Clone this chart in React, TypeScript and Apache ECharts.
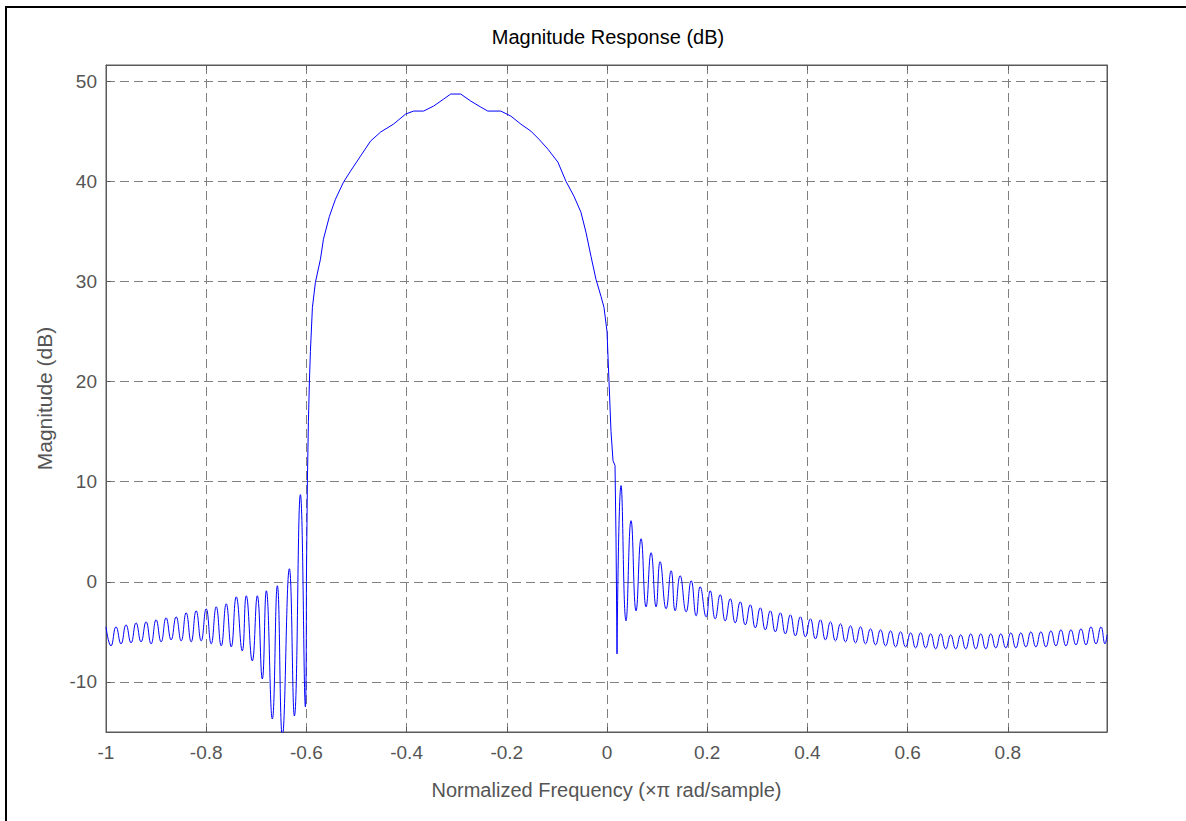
import React, { useEffect, useRef } from "react";
import * as echarts from "echarts";

// Left stopband (normalized frequency, dB)
const leftStopFreq = [
  -1.0, -0.99, -0.98, -0.97, -0.96, -0.95, -0.94, -0.93, -0.92, -0.91,
  -0.9, -0.89, -0.88, -0.87, -0.86, -0.85, -0.84, -0.83, -0.82, -0.81,
  -0.8, -0.79, -0.78, -0.77, -0.76, -0.75, -0.74, -0.728, -0.72, -0.708,
  -0.698, -0.688, -0.68, -0.668, -0.658, -0.648, -0.634, -0.624, -0.612, -0.602,
];
const leftStopMag = [
  -4.5, -6.4, -4.5, -6.2, -4.3, -6.1, -4.1, -6.0, -4.0, -6.2,
  -3.8, -6.0, -3.6, -5.8, -3.5, -5.9, -3.1, -6.0, -2.9, -5.9,
  -2.7, -6.2, -2.5, -6.4, -2.2, -6.5, -1.5, -6.9, -1.4, -7.9,
  -1.4, -9.7, -0.9, -13.7, -0.4, -15.4, 1.3, -13.4, 8.7, -12.5,
];

// Passband (main lobe)
const passFreq = [
  -0.6, -0.598, -0.596, -0.594, -0.592, -0.588, -0.582, -0.572, -0.566, -0.554,
  -0.542, -0.526, -0.512, -0.492, -0.472, -0.452, -0.426, -0.402, -0.386, -0.366,
  -0.346, -0.326, -0.312, -0.292, -0.272, -0.252, -0.238, -0.212, -0.192, -0.172,
  -0.152, -0.136, -0.118, -0.098, -0.082, -0.066, -0.052, -0.042, -0.032, -0.022,
  -0.012, -0.006, 0.0, 0.004, 0.008, 0.012, 0.016, 0.018, 0.02,
];
const passMag = [
  0, 10, 16, 20, 23, 27.4, 29.9, 32.2, 34.2, 36.5,
  38.2, 39.9, 41.0, 42.5, 44.0, 44.9, 45.7, 46.7, 47.0, 47.0,
  47.5, 48.2, 48.7, 48.7, 48.0, 47.4, 47.0, 47.0, 46.5, 45.7,
  45.0, 44.2, 43.2, 41.9, 40.0, 38.5, 36.9, 34.9, 32.5, 30.2,
  28.5, 27.4, 25, 20, 15, 12.1, 11.6, 4.3, -7.2,
];

// Right stopband
const rightStopFreq = [
  0.028, 0.038, 0.048, 0.058, 0.068, 0.078, 0.088, 0.098, 0.106, 0.118,
  0.128, 0.136, 0.146, 0.158, 0.168, 0.178, 0.186, 0.198, 0.206, 0.216,
  0.226, 0.236, 0.246, 0.256, 0.266, 0.276, 0.286, 0.296, 0.306, 0.316,
  0.326, 0.336, 0.346, 0.356, 0.366, 0.376, 0.386, 0.396, 0.406, 0.416,
  0.426, 0.436, 0.446, 0.456, 0.466, 0.476, 0.486, 0.496, 0.506, 0.516,
  0.526, 0.536, 0.546, 0.556, 0.566, 0.576, 0.586, 0.596, 0.606, 0.616,
  0.626, 0.636, 0.646, 0.656, 0.666, 0.676, 0.686, 0.696, 0.706, 0.716,
  0.726, 0.736, 0.746, 0.756, 0.766, 0.776, 0.786, 0.796, 0.806, 0.816,
  0.826, 0.836, 0.846, 0.856, 0.866, 0.876, 0.886, 0.896, 0.906, 0.916,
  0.926, 0.936, 0.946, 0.956, 0.966, 0.976, 0.986, 0.994, 0.998,
];
const rightStopMag = [
  9.6, -3.9, 6.1, -2.9, 4.3, -2.5, 2.9, -2.5, 2.0, -2.7,
  1.1, -2.9, 0.6, -3.0, 0.1, -3.4, -0.5, -3.5, -0.9, -3.7,
  -1.3, -3.9, -1.7, -4.1, -2.0, -4.3, -2.3, -4.6, -2.6, -4.8,
  -2.9, -5.0, -3.1, -5.2, -3.3, -5.4, -3.5, -5.5, -3.7, -5.7,
  -3.8, -5.8, -4.0, -5.9, -4.2, -6.0, -4.4, -6.1, -4.5, -6.2,
  -4.7, -6.3, -4.8, -6.4, -4.9, -6.5, -5.0, -6.5, -5.1, -6.6,
  -5.1, -6.6, -5.2, -6.7, -5.2, -6.7, -5.3, -6.7, -5.3, -6.7,
  -5.2, -6.7, -5.2, -6.7, -5.2, -6.6, -5.2, -6.6, -5.1, -6.6,
  -5.1, -6.5, -5.0, -6.5, -5.0, -6.5, -4.9, -6.4, -4.8, -6.4,
  -4.8, -6.3, -4.7, -6.3, -4.5, -6.2, -4.5, -6.2, -5.3,
];

const X_MIN = -1;
const X_MAX = 0.998;
const Y_MIN = -15;
const Y_MAX = 51.6;

const FONT = "'Liberation Sans', Arial, Helvetica, sans-serif";
const GRAY = "#555555";
const AXIS = "#5a5a5a";
const BLUE = "#0000ff";

export default function App() {
  const ref = useRef<HTMLDivElement>(null);

  useEffect(() => {
    if (!ref.current) return;
    const chart = echarts.init(ref.current, undefined, { renderer: "svg" });

    const pairs = (fs: number[], ms: number[]) => fs.map((f, i) => [f, ms[i]]);
    const passData = pairs(passFreq, passMag);
    const leftData = [...pairs(leftStopFreq, leftStopMag), passData[0]];
    const rightData = [passData[passData.length - 1], ...pairs(rightStopFreq, rightStopMag)];

    const xFmt = (v: number) => {
      const r = Math.round(v * 5) / 5;
      if (Math.abs(v - r) > 1e-6) return "";
      return String(Math.round(r * 10) / 10);
    };
    const yFmt = (v: number) => {
      const r = Math.round(v / 10) * 10;
      if (Math.abs(v - r) > 1e-6) return "";
      return String(r);
    };

    const splitLine = {
      show: true,
      lineStyle: { color: "#808080", type: [9, 5] as any, width: 1 },
    };
    const lineSeries = (data: number[][], smooth: any) => ({
      type: "line",
      xAxisIndex: 0,
      yAxisIndex: 0,
      data,
      smooth,
      showSymbol: false,
      symbol: "none",
      clip: true,
      lineStyle: { color: BLUE, width: 1 },
      itemStyle: { color: BLUE },
    });

    chart.setOption({
      animation: false,
      backgroundColor: "#ffffff",
      title: {
        text: "Magnitude Response (dB)",
        left: 603,
        top: 22,
        textAlign: "center",
        textStyle: {
          fontFamily: FONT,
          fontSize: 20,
          fontWeight: "normal",
          color: "#000000",
        },
      },
      graphic: [
        {
          type: "rect",
          shape: { x: 6, y: 7, width: 1300, height: 1000 },
          style: { fill: "none", stroke: "#000000", lineWidth: 2 },
          silent: true,
        },
      ],
      grid: {
        left: 106,
        top: 65,
        width: 1001,
        height: 667,
        show: true,
        borderColor: AXIS,
        borderWidth: 1,
        backgroundColor: "transparent",
      },
      xAxis: [
        {
          type: "value",
          min: X_MIN,
          max: X_MAX,
          interval: 0.2,
          name: "Normalized Frequency (\u00d7\u03c0 rad/sample)",
          nameLocation: "middle",
          nameGap: 48,
          nameTextStyle: { fontFamily: FONT, fontSize: 20, color: GRAY },
          axisLine: { show: true, onZero: false, lineStyle: { color: AXIS } },
          axisTick: { show: true, inside: true, length: 5, lineStyle: { color: AXIS } },
          axisLabel: {
            formatter: xFmt,
            margin: 11,
            fontFamily: FONT,
            fontSize: 19,
            color: GRAY,
            hideOverlap: false,
          },
          splitLine,
        },
        {
          type: "value",
          position: "top",
          min: X_MIN,
          max: X_MAX,
          interval: 0.2,
          axisLine: { show: true, onZero: false, lineStyle: { color: AXIS } },
          axisTick: { show: true, inside: true, length: 5, lineStyle: { color: AXIS } },
          axisLabel: { show: false },
          splitLine: { show: false },
        },
      ],
      yAxis: [
        {
          type: "value",
          min: Y_MIN,
          max: Y_MAX,
          minInterval: 10,
          maxInterval: 10,
          name: "Magnitude (dB)",
          nameLocation: "middle",
          nameGap: 51,
          nameTextStyle: { fontFamily: FONT, fontSize: 21, color: GRAY },
          axisLine: { show: true, onZero: false, lineStyle: { color: AXIS } },
          axisTick: { show: true, inside: true, length: 5, lineStyle: { color: AXIS } },
          axisLabel: {
            formatter: yFmt,
            margin: 9,
            fontFamily: FONT,
            fontSize: 19,
            color: GRAY,
            showMinLabel: true,
            showMaxLabel: true,
            hideOverlap: false,
          },
          splitLine,
        },
        {
          type: "value",
          position: "right",
          min: Y_MIN,
          max: Y_MAX,
          minInterval: 10,
          maxInterval: 10,
          axisLine: { show: true, onZero: false, lineStyle: { color: AXIS } },
          axisTick: { show: true, inside: true, length: 5, lineStyle: { color: AXIS } },
          axisLabel: { show: false },
          splitLine: { show: false },
        },
      ],
      series: [
        lineSeries(leftData, 0.5),
        lineSeries(passData, false),
        lineSeries(rightData, 0.5),
      ],
    });

    return () => chart.dispose();
  }, []);

  return (
    <div
      ref={ref}
      style={{
        position: "fixed",
        left: 0,
        top: 0,
        width: 1186,
        height: 821,
        background: "#ffffff",
      }}
    />
  );
}
